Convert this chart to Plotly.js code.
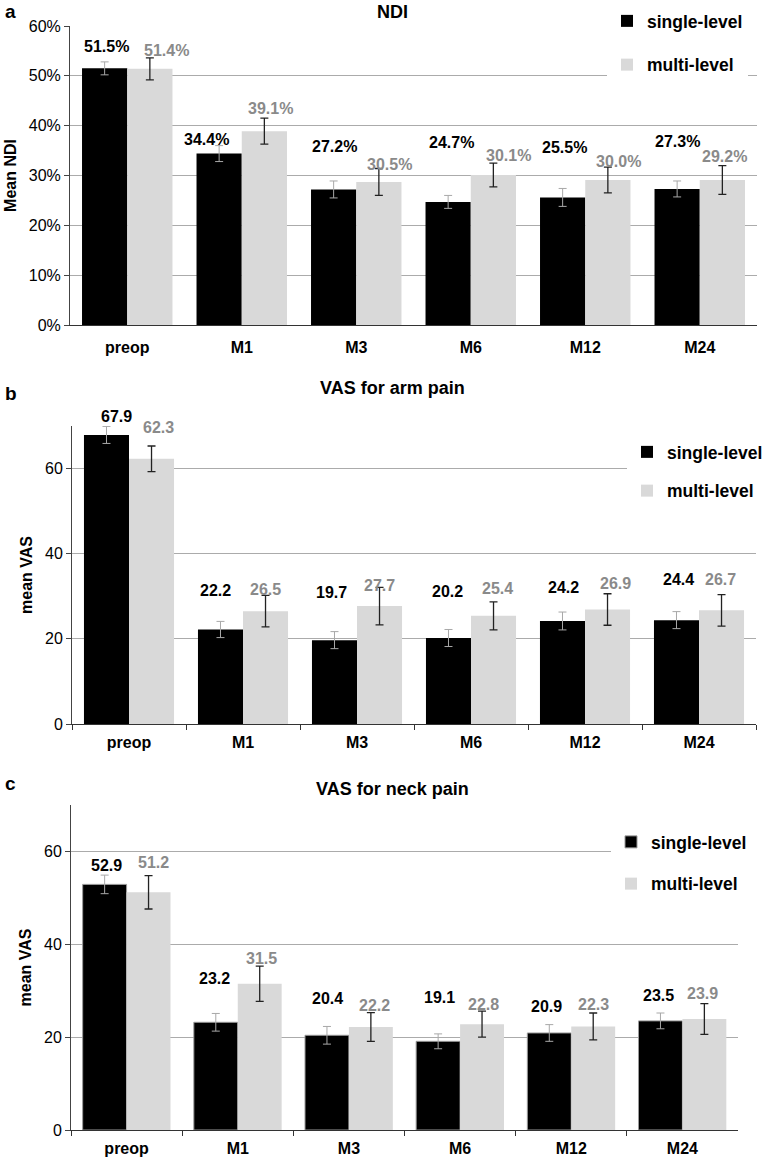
<!DOCTYPE html>
<html><head><meta charset="utf-8">
<script src="https://cdn.plot.ly/plotly-3.0.1.min.js"></script>
<style>html,body{margin:0;padding:0;background:#fff}#chart{width:767px;height:1159px}</style>
</head><body><div id="chart"></div>
<script>
// ---------- data ----------
const categories = ['preop', 'M1', 'M3', 'M6', 'M12', 'M24'];
const seriesNames = ['single-level', 'multi-level'];

// Panel a: NDI (%)
const ndiSingle = [51.5, 34.4, 27.2, 24.7, 25.6, 27.3];
const ndiMulti = [51.4, 38.9, 28.7, 30.1, 29.1, 29.1];
const ndiSingleErr = [1.3, 1.6, 1.7, 1.3, 1.8, 1.6];
const ndiMultiErr = [2.2, 2.6, 2.7, 2.4, 2.6, 2.9];
const ndiSingleLabels = ['51.5%', '34.4%', '27.2%', '24.7%', '25.5%', '27.3%'];
const ndiMultiLabels = ['51.4%', '39.1%', '30.5%', '30.1%', '30.0%', '29.2%'];
const ndiTicks = [0, 10, 20, 30, 40, 50, 60];

// Panel b: VAS for arm pain
const armSingle = [67.9, 22.2, 19.7, 20.2, 24.2, 24.4];
const armMulti = [62.3, 26.5, 27.7, 25.4, 26.9, 26.7];
const armSingleErr = [2.0, 1.9, 2.0, 2.0, 2.1, 2.0];
const armMultiErr = [3.0, 3.7, 4.4, 3.3, 3.7, 3.7];
const armSingleLabels = ['67.9', '22.2', '19.7', '20.2', '24.2', '24.4'];
const armMultiLabels = ['62.3', '26.5', '27.7', '25.4', '26.9', '26.7'];

// Panel c: VAS for neck pain
const neckSingle = [52.9, 23.2, 20.4, 19.1, 20.9, 23.5];
const neckMulti = [51.2, 31.5, 22.2, 22.8, 22.3, 23.9];
const neckSingleErr = [2.0, 1.9, 1.9, 1.6, 1.8, 1.7];
const neckMultiErr = [3.6, 3.8, 3.1, 2.8, 2.9, 3.3];
const neckSingleLabels = ['52.9', '23.2', '20.4', '19.1', '20.9', '23.5'];
const neckMultiLabels = ['51.2', '31.5', '22.2', '22.8', '22.3', '23.9'];
const vasTicks = [0, 20, 40, 60];

// ---------- label placement (value height where each label sits, horizontal nudge) ----------
const ndiSingleLabelAt = [55.8, 37.3, 35.9, 36.7, 35.7, 36.9];
const ndiMultiLabelAt = [55.0, 43.5, 32.3, 34.1, 32.9, 33.9];
const ndiSingleDx = [-21, -35, -22, -19, -21, -22];
const ndiMultiDx = [39, 29, 33, 38, 33, 25];
const armSingleLabelAt = [72.2, 31.3, 30.8, 31.1, 32.0, 33.9];
const armMultiLabelAt = [69.6, 31.5, 32.5, 31.8, 32.9, 33.9];
const armSingleDx = [-13, -28, -26, -24, -22, -21];
const armMultiDx = [29, 22, 22, 26, 30, 21];
const neckSingleLabelAt = [57.0, 32.7, 28.4, 28.6, 26.7, 29.0];
const neckMultiLabelAt = [57.6, 37.0, 26.9, 27.1, 27.0, 29.4];
const neckSingleDx = [-20, -23, -21, -21, -25, -24];
const neckMultiDx = [27, 24, 26, 23, 22, 20];

// ---------- layout ----------
const W = 767, H = 1159;
const FONT = 'Liberation Sans, Arial, Helvetica, sans-serif';
const BLACK = '#000000', GREY = '#d9d9d9', LABELGREY = '#8a8a8a';
const px = x => x / W;
const py = y => 1 - y / H;

const panels = [
  {ax: '', letter: 'a', title: 'NDI', ytitle: 'Mean NDI', box: {l: 70, r: 757, t: 26, b: 325}, ymax: 60, ticks: ndiTicks, suffix: '%',
   s: ndiSingle, m: ndiMulti, se: ndiSingleErr, me: ndiMultiErr, sl: ndiSingleLabels, ml: ndiMultiLabels,
   sAt: ndiSingleLabelAt, mAt: ndiMultiLabelAt, sDx: ndiSingleDx, mDx: ndiMultiDx,
   titleY: 12, letterY: 12, legend: 'legend', legX: 607, legY: 3, legGap: 18, xticks: false, outline: false},
  {ax: '2', letter: 'b', title: 'VAS for arm pain', ytitle: 'mean VAS', box: {l: 72, r: 756, t: 426, b: 724}, ymax: 70, ticks: vasTicks, suffix: '',
   s: armSingle, m: armMulti, se: armSingleErr, me: armMultiErr, sl: armSingleLabels, ml: armMultiLabels,
   sAt: armSingleLabelAt, mAt: armMultiLabelAt, sDx: armSingleDx, mDx: armMultiDx,
   titleY: 388, letterY: 393, legend: 'legend2', legX: 627, legY: 434, legGap: 13, xticks: true, outline: false},
  {ax: '3', letter: 'c', title: 'VAS for neck pain', ytitle: 'mean VAS', box: {l: 71, r: 738, t: 805, b: 1130}, ymax: 70, ticks: vasTicks, suffix: '',
   s: neckSingle, m: neckMulti, se: neckSingleErr, me: neckMultiErr, sl: neckSingleLabels, ml: neckMultiLabels,
   sAt: neckSingleLabelAt, mAt: neckMultiLabelAt, sDx: neckSingleDx, mDx: neckMultiDx,
   titleY: 789, letterY: 783, legend: 'legend3', legX: 611, legY: 824, legGap: 16, xticks: true, outline: true}
];

const traces = [];
const annotations = [];
const layout = {
  width: W, height: H,
  margin: {l: 0, r: 0, t: 0, b: 0, autoexpand: false},
  paper_bgcolor: '#ffffff', plot_bgcolor: '#ffffff',
  font: {family: FONT, color: '#000'},
  barmode: 'group', bargap: 0.21, bargroupgap: 0,
  showlegend: true,
  annotations: annotations
};

panels.forEach((p, k) => {
  const xa = 'x' + p.ax, ya = 'y' + p.ax;
  traces.push({
    type: 'bar', name: seriesNames[0], x: categories, y: p.s,
    xaxis: xa, yaxis: ya, legend: p.legend, legendgroup: 'g' + k + 's',
    marker: {color: BLACK, line: {color: p.outline ? '#9a9a9a' : BLACK, width: p.outline ? 1 : 0}},
    error_y: {type: 'data', array: p.se, visible: true, color: '#a8a8a8', thickness: 1, width: 4},
    hoverinfo: 'x+y'
  });
  traces.push({
    type: 'bar', name: seriesNames[1], x: categories, y: p.m,
    xaxis: xa, yaxis: ya, legend: p.legend, legendgroup: 'g' + k + 'm',
    marker: {color: GREY, line: {width: 0}},
    error_y: {type: 'data', array: p.me, visible: true, color: '#222222', thickness: 1.3, width: 4},
    hoverinfo: 'x+y'
  });

  const xKey = 'xaxis' + p.ax, yKey = 'yaxis' + p.ax;
  layout[xKey] = {
    domain: [px(p.box.l), px(p.box.r)], anchor: ya, type: 'category',
    range: [-0.5, categories.length - 0.5],
    showline: true, linecolor: '#333', linewidth: 1.2,
    ticks: p.xticks ? 'outside' : '', tickson: 'boundaries', ticklen: 5, tickcolor: '#333',
    showgrid: false, zeroline: false, automargin: false,
    tickfont: {family: FONT, size: 16, weight: 'bold', color: '#000'},
    ticklabelstandoff: p.xticks ? 4 : 8,
    fixedrange: true
  };
  layout[yKey] = {
    domain: [py(p.box.b), py(p.box.t)], anchor: xa,
    range: [0, p.ymax], tickvals: p.ticks, ticktext: p.ticks.map(v => v + p.suffix),
    showline: true, linecolor: '#444', linewidth: 1,
    ticks: 'outside', ticklen: 5, tickcolor: '#444',
    showgrid: true, gridcolor: '#ababab', gridwidth: 1, zeroline: false, automargin: false,
    tickfont: {family: FONT, size: 16, color: '#000'},
    title: {text: p.ytitle, font: {family: FONT, size: 16, weight: 'bold', color: '#000'}, standoff: 8},
    fixedrange: true
  };

  layout[p.legend] = {
    x: px(p.legX), y: py(p.legY), xanchor: 'left', yanchor: 'top',
    bgcolor: '#ffffff', borderwidth: 0,
    font: {family: FONT, size: 17.5, weight: 'bold', color: '#000'},
    traceorder: 'grouped', tracegroupgap: p.legGap
  };

  // panel title and letter
  annotations.push({xref: 'paper', yref: 'paper', x: px(392), y: py(p.titleY), text: p.title,
    showarrow: false, xanchor: 'center', yanchor: 'middle', font: {family: FONT, size: 18, weight: 'bold', color: '#000'}});
  annotations.push({xref: 'paper', yref: 'paper', x: px(3), y: py(p.letterY), text: p.letter,
    showarrow: false, xanchor: 'left', yanchor: 'middle', font: {family: FONT, size: 19, weight: 'bold', color: '#000'}});

  // value labels
  categories.forEach((c, i) => {
    annotations.push({xref: xa, yref: ya + ' domain', x: c, y: p.sAt[i] / p.ymax, xshift: p.sDx[i],
      text: p.sl[i], showarrow: false, xanchor: 'center', yanchor: 'middle',
      font: {family: FONT, size: 16, weight: 'bold', color: '#000'}});
    annotations.push({xref: xa, yref: ya + ' domain', x: c, y: p.mAt[i] / p.ymax, xshift: p.mDx[i],
      text: p.ml[i], showarrow: false, xanchor: 'center', yanchor: 'middle',
      font: {family: FONT, size: 16, weight: 'bold', color: LABELGREY}});
  });
});

Plotly.newPlot('chart', traces, layout, {displayModeBar: false, staticPlot: true});
</script>
</body></html>
